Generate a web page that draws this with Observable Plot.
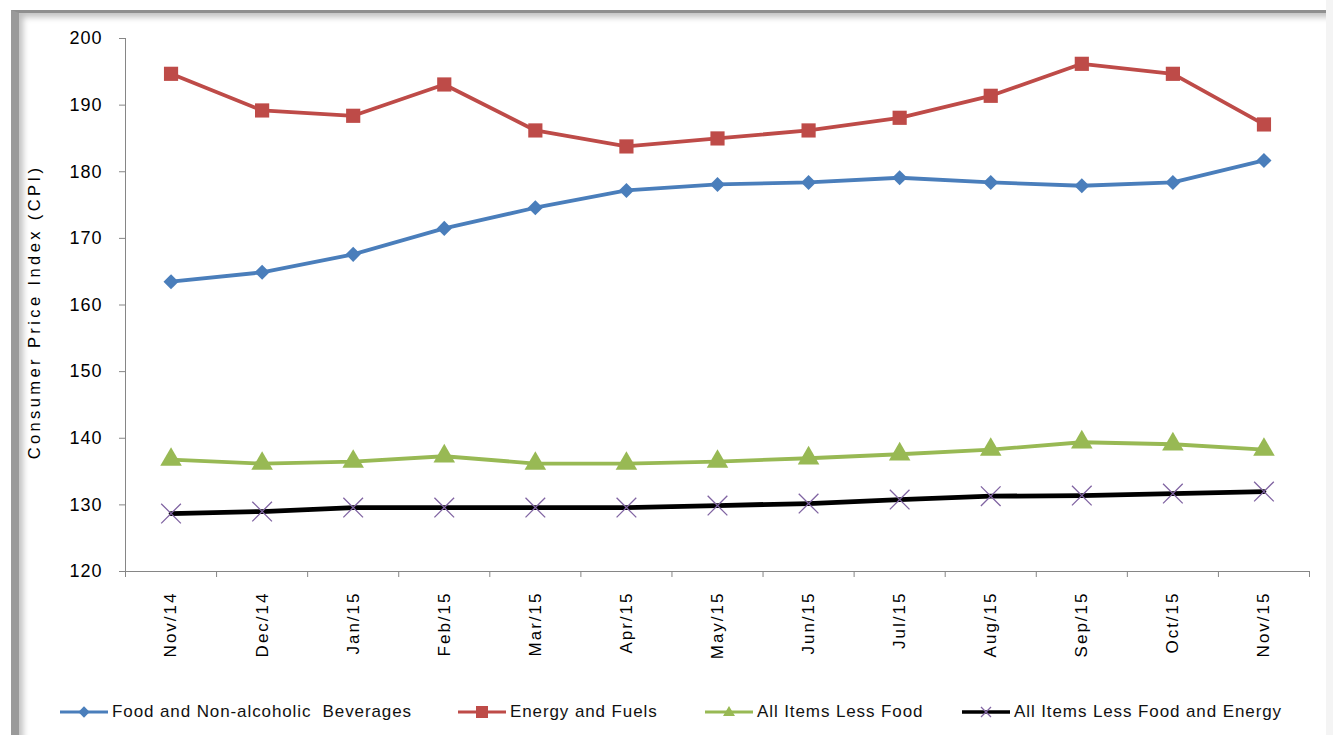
<!DOCTYPE html>
<html>
<head>
<meta charset="utf-8">
<script src="https://cdn.jsdelivr.net/npm/d3@7"></script>
<script src="https://cdn.jsdelivr.net/npm/@observablehq/plot@0.6"></script>
<style>
  html, body { margin: 0; padding: 0; background: #fff; }
  #wrap { position: relative; width: 1333px; height: 735px; overflow: hidden; font-family: "Liberation Sans", "DejaVu Sans", sans-serif; }
  #frame { position: absolute; left: 11px; top: 10px; width: 1313px; height: 760px; border-left: 8px solid #9a9a9a; border-top: 3px solid #8f8f8f; border-right: 1px solid #d8d8d8; box-shadow: inset 4px 4px 6px rgba(0,0,0,0.25); background: #fff; }
  #outside { position: absolute; left: 1326px; top: 0; width: 7px; height: 735px; background: #f4f4f4; }
  #chart { position: absolute; left: 0; top: 0; }
  #legend { position: absolute; top: 702px; left: 0; width: 1333px; height: 22px; font-size: 17px; letter-spacing: 0.9px; color: #111; }
  .item { position: absolute; display: flex; align-items: center; white-space: pre; }
  .item svg { margin-right: 2px; }
  #chart svg g[aria-label="y-axis tick label"] text { letter-spacing: 1px; }
  #chart svg g[aria-label="x-axis tick label"] text { letter-spacing: 2px; }
</style>
</head>
<body>
<div id="wrap">
  <div id="frame"></div>
  <div id="outside"></div>
  <div id="chart"></div>
  <div id="legend"></div>
</div>
<script>
const months = ["Nov/14","Dec/14","Jan/15","Feb/15","Mar/15","Apr/15","May/15","Jun/15","Jul/15","Aug/15","Sep/15","Oct/15","Nov/15"];
const seriesNames = ["Food and Non-alcoholic  Beverages","Energy and Fuels","All Items Less Food","All Items Less Food and Energy"];
const food   = [163.5,164.9,167.6,171.5,174.6,177.2,178.1,178.4,179.1,178.4,177.9,178.4,181.7];
const energy = [194.7,189.2,188.4,193.1,186.2,183.8,185.0,186.2,188.1,191.4,196.2,194.7,187.1];
const lessFood = [136.8,136.2,136.5,137.3,136.2,136.2,136.5,137.0,137.6,138.3,139.4,139.1,138.3];
const lessFoodEnergy = [128.7,129.0,129.6,129.6,129.6,129.6,129.9,130.2,130.8,131.3,131.4,131.7,132.0];
const yTicks = [120,130,140,150,160,170,180,190,200];

const lineColors = ["#4A7EBB","#BE4B48","#98B954","#000000"];
const markColors = ["#4A7EBB","#BE4B48","#98B954","#8064A2"];

const allValues = [food, energy, lessFood, lessFoodEnergy];
const rows = [];
allValues.forEach((vals, s) => vals.forEach((v, i) => rows.push({s, i, v})));
const sub = s => rows.filter(d => d.s === s);

const boundaries = d3.range(months.length + 1).map(i => i - 0.5);

const plot = Plot.plot({
  width: 1333,
  height: 680,
  marginLeft: 125,
  marginRight: 24,
  marginTop: 38,
  marginBottom: 109,
  style: { fontFamily: "Liberation Sans, sans-serif", background: "transparent", color: "#000" },
  x: { type: "linear", domain: [-0.5, months.length - 0.5] },
  y: { domain: [120, 200] },
  marks: [
    Plot.axisY({ ticks: yTicks, tickSize: 6, tickPadding: 17, stroke: "#868686", fontSize: 18, label: null, tickFormat: d => d, color: "#000" }),
    Plot.axisX({ ticks: boundaries, tickSize: 6, stroke: "#868686", tickFormat: () => "", label: null }),
    Plot.axisX({ ticks: d3.range(months.length), tickSize: 0, tickPadding: 20, tickRotate: -90, tickFormat: i => months[i], fontSize: 17, label: null }),
    Plot.text(["Consumer Price Index (CPI)"], { frameAnchor: "left", dx: -91, dy: 7, rotate: -90, textAnchor: "middle", fontSize: 16.5, fill: "#000", text: d => d, style: "letter-spacing:3.4px" }),
    Plot.frame({ anchor: "left", stroke: "#868686" }),
    Plot.frame({ anchor: "bottom", stroke: "#868686" }),
    // lines
    Plot.line(sub(1), { x: "i", y: "v", stroke: lineColors[1], strokeWidth: 3.8 }),
    Plot.line(sub(0), { x: "i", y: "v", stroke: lineColors[0], strokeWidth: 3.8 }),
    Plot.line(sub(2), { x: "i", y: "v", stroke: lineColors[2], strokeWidth: 3.8 }),
    Plot.line(sub(3), { x: "i", y: "v", stroke: lineColors[3], strokeWidth: 4.8 }),
    // markers
    Plot.dot(sub(0), { x: "i", y: "v", symbol: "square", r: 6, rotate: 45, fill: markColors[0] }),
    Plot.dot(sub(1), { x: "i", y: "v", symbol: "square", r: 8, fill: markColors[1] }),
    Plot.dot(sub(2), { x: "i", y: "v", symbol: "triangle", r: 8, fill: markColors[2] }),
    Plot.dot(sub(3), { x: "i", y: "v", symbol: "times", r: 9, stroke: markColors[3], strokeWidth: 1.3, fill: "none" })
  ]
});
// letter spacing for the rotated y label
plot.querySelectorAll('g[aria-label="text"] text').forEach(t => t.style.letterSpacing = "3.4px");
document.getElementById("chart").appendChild(plot);

// legend
const legendX = [60, 458, 705, 962];
const legend = document.getElementById("legend");
seriesNames.forEach((name, s) => {
  const div = document.createElement("div");
  div.className = "item";
  div.style.left = legendX[s] + "px";
  const sym = s === 0 ? `<rect x="20" y="6" width="8" height="8" transform="rotate(45 24 10)" fill="${markColors[0]}"/>`
    : s === 1 ? `<rect x="18" y="4" width="12" height="12" fill="${markColors[1]}"/>`
    : s === 2 ? `<path d="M24 4 L30 14 L18 14 Z" fill="${markColors[2]}"/>`
    : `<path d="M19 5 L29 15 M29 5 L19 15" stroke="${markColors[3]}" stroke-width="1.3"/>`;
  div.innerHTML = `<svg width="50" height="20"><line x1="0" y1="10" x2="48" y2="10" stroke="${lineColors[s]}" stroke-width="${s===3?3.5:3}"/>${sym}</svg><span>${name}</span>`;
  legend.appendChild(div);
});
</script>
</body>
</html>
